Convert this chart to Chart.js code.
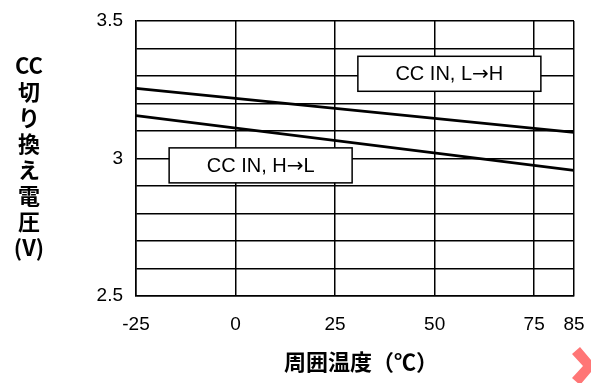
<!DOCTYPE html>
<html>
<head>
<meta charset="utf-8">
<script src="https://cdn.jsdelivr.net/npm/chart.js@4.4.1/dist/chart.umd.min.js"></script>
<style>
  html, body { margin: 0; padding: 0; background: #fff; }
  #wrap { width: 591px; height: 383px; }
</style>
</head>
<body>
<div id="wrap"><canvas id="chart" width="591" height="383"></canvas></div>
<script>
// temperatures (℃) and switching voltages (V)
const temps = [-25, 85];
const lowToHigh = [3.255, 3.095];
const highToLow = [3.156, 2.957];
const xTicks = [-25, 0, 25, 50, 75, 85];
const yLabels = [2.5, 3, 3.5];
// label boxes: centre in data units, text
const boxes = [
  { x: 53.7, y: 3.308, text: 'CC IN, L→H' },
  { x: 6.3, y: 2.975, text: 'CC IN, H→L' }
];
const yTitle = ['CC', '切', 'り', '換', 'え', '電', '圧', '(V)'];
const xTitle = '周囲温度（℃）';

const LATIN = '"Liberation Sans", Arial, Helvetica, sans-serif';
const JP = '"Noto Sans CJK JP", "Liberation Sans", sans-serif';
const ARROW = '"DejaVu Sans", sans-serif';

// draw a label, taking the arrow glyph from DejaVu so it is long like the original
function drawLabel(ctx, text, cx, cy) {
  const parts = text.split(/(→)/).filter(Boolean).map(p => ({
    s: p, font: p === '→' ? '20px ' + ARROW : '20px ' + LATIN
  }));
  let total = 0;
  parts.forEach(p => { ctx.font = p.font; p.w = ctx.measureText(p.s).width; total += p.w; });
  let x0 = cx - total / 2;
  ctx.textAlign = 'left';
  parts.forEach(p => { ctx.font = p.font; ctx.fillText(p.s, x0, cy); x0 += p.w; });
}

const boxPlugin = {
  id: 'boxes',
  afterDatasetsDraw(chart) {
    const { ctx, scales: { x, y } } = chart;
    ctx.save();
    ctx.textBaseline = 'middle';
    boxes.forEach(b => {
      const cx = x.getPixelForValue(b.x), cy = y.getPixelForValue(b.y);
      const w = 183, h = 35;
      ctx.fillStyle = '#fff';
      ctx.fillRect(cx - w / 2, cy - h / 2, w, h);
      ctx.strokeStyle = '#000';
      ctx.lineWidth = 1.5;
      ctx.strokeRect(cx - w / 2, cy - h / 2, w, h);
      ctx.fillStyle = '#000';
      drawLabel(ctx, b.text, cx, cy + 1);
    });
    ctx.restore();
  },
  afterDraw(chart) {
    const ctx = chart.ctx;
    ctx.save();
    ctx.fillStyle = '#000';
    ctx.textAlign = 'center';
    ctx.textBaseline = 'middle';
    // vertical y-axis title
    ctx.font = 'bold 22px ' + JP;
    yTitle.forEach((t, i) => {
      ctx.fillText(t, 29, 66 + i * 26);
    });
    // x-axis title
    ctx.fillText(xTitle, 361, 362);
    // orange chevron
    ctx.fillStyle = '#ff7676';
    ctx.beginPath();
    ctx.moveTo(572, 354);
    ctx.lineTo(580, 347);
    ctx.lineTo(596, 366);
    ctx.lineTo(580, 385);
    ctx.lineTo(572, 378);
    ctx.lineTo(583, 366);
    ctx.closePath();
    ctx.fill();
    ctx.restore();
  }
};

const lineStyle = { showLine: true, borderColor: '#000', backgroundColor: '#000', borderWidth: 2.8, pointRadius: 0 };

new Chart(document.getElementById('chart'), {
  type: 'scatter',
  data: {
    datasets: [
      { label: 'CC IN, L→H', data: temps.map((t, i) => ({ x: t, y: lowToHigh[i] })), ...lineStyle },
      { label: 'CC IN, H→L', data: temps.map((t, i) => ({ x: t, y: highToLow[i] })), ...lineStyle }
    ]
  },
  options: {
    responsive: false,
    animation: false,
    events: [],
    layout: { padding: { top: 21, right: 17, left: 0, bottom: 0 } },
    plugins: { legend: { display: false }, tooltip: { enabled: false } },
    scales: {
      x: {
        type: 'linear', min: -25, max: 85,
        afterBuildTicks: s => { s.ticks = xTicks.map(v => ({ value: v })); },
        afterFit: s => { s.height = 87; s.paddingLeft = 0; s.paddingRight = 0; },
        grid: { color: '#000', lineWidth: 1.5, drawTicks: false },
        border: { color: '#000', width: 1.5 },
        ticks: { color: '#000', font: { family: LATIN, size: 19 }, padding: 17, maxRotation: 0, autoSkip: false }
      },
      y: {
        min: 2.5, max: 3.5,
        afterFit: s => { s.width = 136; s.paddingTop = 0; s.paddingBottom = 0; },
        ticks: {
          stepSize: 0.1, color: '#000', font: { family: LATIN, size: 19 }, padding: 13,
          callback: v => {
            const r = Math.round(v * 10) / 10;
            return yLabels.includes(r) ? String(r) : '';
          }
        },
        grid: { color: '#000', lineWidth: 1.5, drawTicks: false },
        border: { color: '#000', width: 1.5 }
      }
    }
  },
  plugins: [boxPlugin]
});
</script>
</body>
</html>
